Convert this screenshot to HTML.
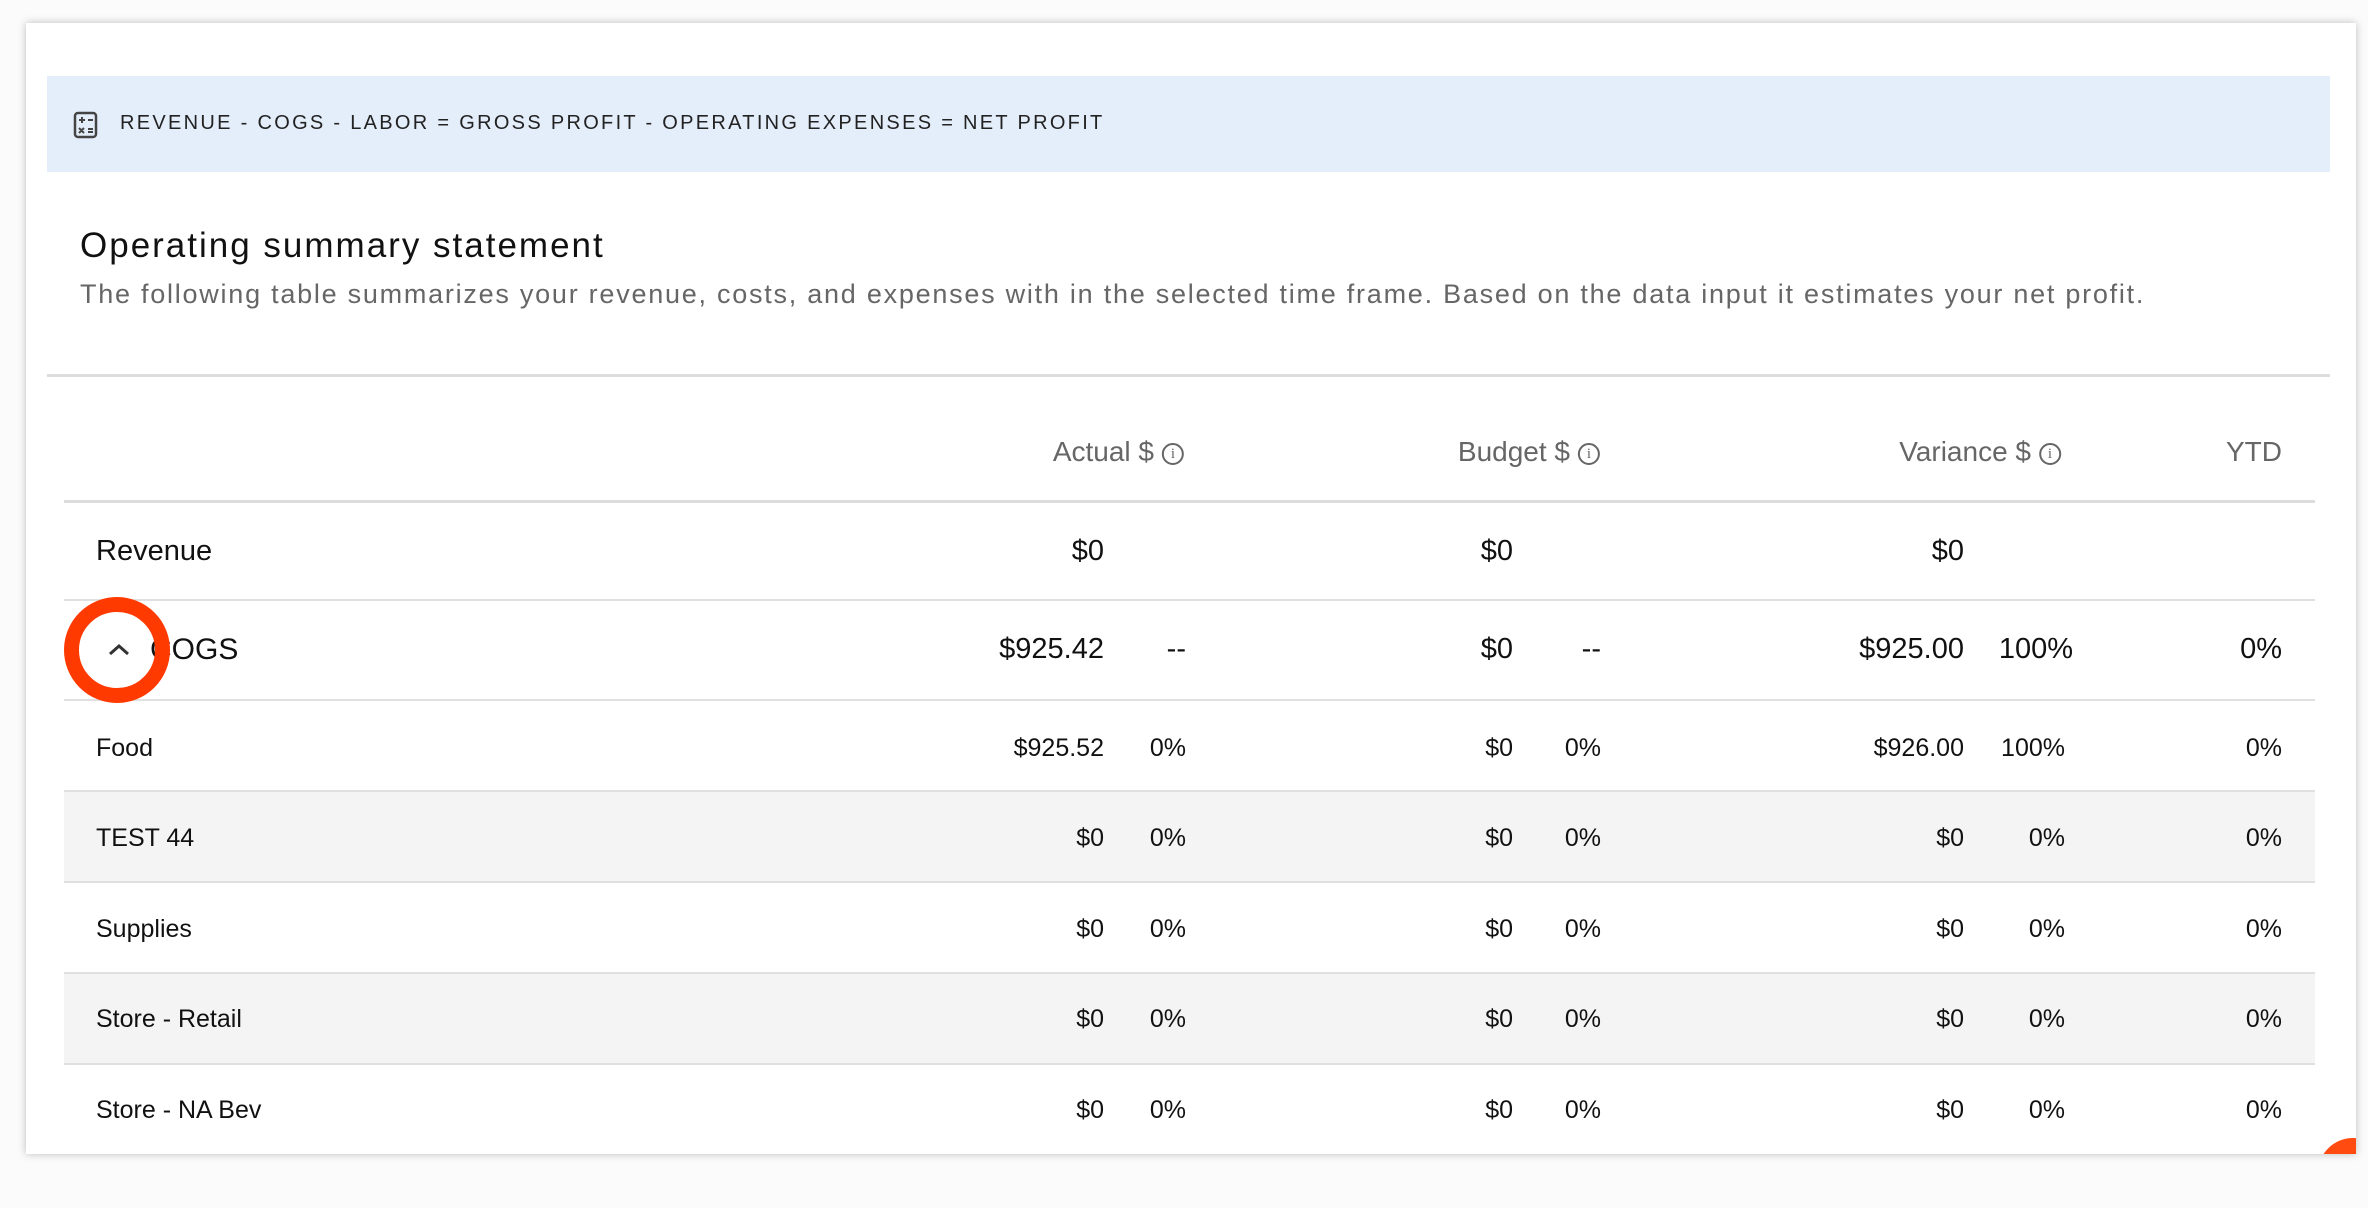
<!DOCTYPE html>
<html><head><meta charset="utf-8"><style>
body{margin:0;width:2368px;height:1172px;background:#fbfbfb;position:relative;overflow:hidden;font-family:"Liberation Sans",sans-serif;color:#111}
.card{position:absolute;left:26px;top:23px;width:2330px;height:1131px;background:#fff;box-shadow:0 0 8px rgba(0,0,0,.25)}
.t{position:absolute;white-space:nowrap}
.r{position:absolute;white-space:nowrap;transform:translateX(-100%)}
.line{position:absolute;left:64px;width:2251px;height:2px;background:#e0e0e0}
.bg{position:absolute;left:64px;width:2251px;background:#f4f4f4}
.h{color:#666;font-size:28px}
.info{display:inline-block;width:22px;height:22px;border:2px solid #666;border-radius:50%;box-sizing:border-box;font-size:15px;line-height:18px;text-align:center;vertical-align:middle;margin-left:8px;font-family:"Liberation Serif",serif}
</style></head><body>
<div class="card"></div>
<div style="position:absolute;left:47px;top:76px;width:2283px;height:96px;background:#e3eefa"></div>
<svg style="position:absolute;left:73px;top:111px" width="26" height="28" viewBox="0 0 26 28"><rect x="2" y="2" width="21" height="24" rx="3" fill="none" stroke="#444" stroke-width="2.5"/><path d="M6 9h6M9 6v6M15 9h5M6 17l5 5M11 17l-5 5M15 18h5M15 21h5" stroke="#444" stroke-width="2"/></svg>
<div class="t" style="left:120px;top:112px;font-size:20px;letter-spacing:2.3px;color:#222">REVENUE - COGS - LABOR = GROSS PROFIT - OPERATING EXPENSES = NET PROFIT</div>
<div class="t" style="left:80px;top:226px;font-size:35px;color:#111;letter-spacing:2px">Operating summary statement</div>
<div class="t" style="left:80px;top:279px;font-size:27px;color:#666;letter-spacing:1.75px">The following table summarizes your revenue, costs, and expenses with in the selected time frame. Based on the data input it estimates your net profit.</div>
<div style="position:absolute;left:47px;top:374px;width:2283px;height:3px;background:#ddd"></div>

<div class="r h" style="left:1184px;top:436px">Actual $<span class="info">i</span></div>
<div class="r h" style="left:1600px;top:436px">Budget $<span class="info">i</span></div>
<div class="r h" style="left:2061px;top:436px">Variance $<span class="info">i</span></div>
<div class="r h" style="left:2282px;top:436px">YTD</div>
<div class="line" style="top:500px;height:3px;background:#ddd"></div>

<div class="t" style="left:96px;top:535px;font-size:29px">Revenue</div>
<div class="r" style="left:1104px;top:535px;font-size:29px">$0</div>
<div class="r" style="left:1513px;top:535px;font-size:29px">$0</div>
<div class="r" style="left:1964px;top:535px;font-size:29px">$0</div>
<div class="line" style="top:599px"></div>

<div class="t" style="left:150px;top:633px;font-size:30px">COGS</div>
<svg style="position:absolute;left:108px;top:642px" width="22" height="14" viewBox="0 0 22 14"><path d="M2 12L11 4L20 12" fill="none" stroke="#333" stroke-width="3"/></svg>
<div class="r" style="left:1104px;top:633px;font-size:29px">$925.42</div>
<div class="r" style="left:1186px;top:633px;font-size:29px">--</div>
<div class="r" style="left:1513px;top:633px;font-size:29px">$0</div>
<div class="r" style="left:1601px;top:633px;font-size:29px">--</div>
<div class="r" style="left:1964px;top:633px;font-size:29px">$925.00</div>
<div class="r" style="left:2073px;top:633px;font-size:29px">100%</div>
<div class="r" style="left:2282px;top:633px;font-size:29px">0%</div>
<div class="line" style="top:699px"></div>

<div class="bg" style="top:792px;height:90px"></div>
<div class="bg" style="top:974px;height:89px"></div>
<div class="line" style="top:790px"></div>
<div class="line" style="top:881px"></div>
<div class="line" style="top:972px"></div>
<div class="line" style="top:1063px"></div>

<div style="font-size:25px">
<div class="t" style="left:96px;top:734px">Food</div>
<div class="r" style="left:1104px;top:734px">$925.52</div><div class="r" style="left:1186px;top:734px">0%</div>
<div class="r" style="left:1513px;top:734px">$0</div><div class="r" style="left:1601px;top:734px">0%</div>
<div class="r" style="left:1964px;top:734px">$926.00</div><div class="r" style="left:2065px;top:734px">100%</div>
<div class="r" style="left:2282px;top:734px">0%</div>

<div class="t" style="left:96px;top:824px">TEST 44</div>
<div class="r" style="left:1104px;top:824px">$0</div><div class="r" style="left:1186px;top:824px">0%</div>
<div class="r" style="left:1513px;top:824px">$0</div><div class="r" style="left:1601px;top:824px">0%</div>
<div class="r" style="left:1964px;top:824px">$0</div><div class="r" style="left:2065px;top:824px">0%</div>
<div class="r" style="left:2282px;top:824px">0%</div>

<div class="t" style="left:96px;top:915px">Supplies</div>
<div class="r" style="left:1104px;top:915px">$0</div><div class="r" style="left:1186px;top:915px">0%</div>
<div class="r" style="left:1513px;top:915px">$0</div><div class="r" style="left:1601px;top:915px">0%</div>
<div class="r" style="left:1964px;top:915px">$0</div><div class="r" style="left:2065px;top:915px">0%</div>
<div class="r" style="left:2282px;top:915px">0%</div>

<div class="t" style="left:96px;top:1005px">Store - Retail</div>
<div class="r" style="left:1104px;top:1005px">$0</div><div class="r" style="left:1186px;top:1005px">0%</div>
<div class="r" style="left:1513px;top:1005px">$0</div><div class="r" style="left:1601px;top:1005px">0%</div>
<div class="r" style="left:1964px;top:1005px">$0</div><div class="r" style="left:2065px;top:1005px">0%</div>
<div class="r" style="left:2282px;top:1005px">0%</div>

<div class="t" style="left:96px;top:1096px">Store - NA Bev</div>
<div class="r" style="left:1104px;top:1096px">$0</div><div class="r" style="left:1186px;top:1096px">0%</div>
<div class="r" style="left:1513px;top:1096px">$0</div><div class="r" style="left:1601px;top:1096px">0%</div>
<div class="r" style="left:1964px;top:1096px">$0</div><div class="r" style="left:2065px;top:1096px">0%</div>
<div class="r" style="left:2282px;top:1096px">0%</div>
</div>

<div style="position:absolute;left:64px;top:597px;width:106px;height:106px;border:15px solid #ff3a00;border-radius:50%;box-sizing:border-box"></div>
<div style="position:absolute;left:2318px;top:1138px;width:70px;height:70px;border-radius:50%;background:#ff4a10;clip-path:inset(0 32px 54px 0)"></div>
</body></html>
